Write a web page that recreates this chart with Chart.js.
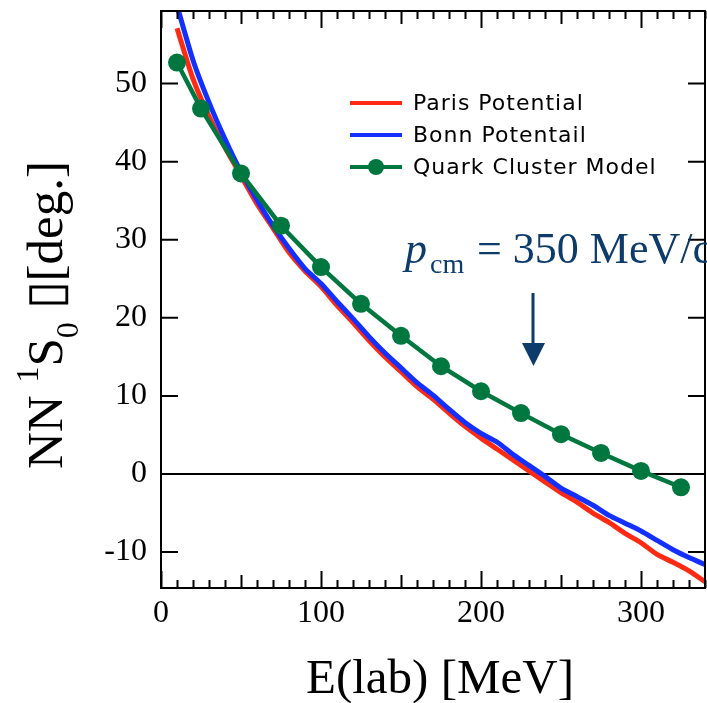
<!DOCTYPE html>
<html lang="en">
<head>
    <meta charset="UTF-8">
    <title>NN 1S0 phase shift</title>
    <style>
        html, body { margin: 0; padding: 0; background: #fff; overflow: hidden; }
        #phaseChart { display: block; }
    </style>
</head>
<body>

<canvas id="phaseChart" width="707" height="703"></canvas>

<script src="https://cdn.jsdelivr.net/npm/chart.js"></script>
<script>
  // values
  const energy = [10, 20, 30, 40, 50, 60, 70, 80, 90, 100, 110, 120, 130, 140, 150, 160, 170,
                  180, 190, 200, 210, 220, 230, 240, 250, 260, 270, 280, 290, 300, 310, 320, 330, 340];
  const parisPhase = [57.1, 50.6, 45.8, 41.8, 38.2, 34.6, 31.5, 28.4, 26.0, 24.0, 21.6, 19.4, 17.1, 15.0,
                      13.1, 11.2, 9.6, 7.8, 6.1, 4.6, 3.2, 1.8, 0.4, -1.0, -2.4, -3.6, -5.0, -6.2,
                      -7.6, -8.8, -10.3, -11.3, -12.4, -13.8];
  const bonnPhase = [60.0, 53.0, 47.6, 42.9, 38.7, 35.1, 31.8, 28.9, 26.3, 24.4, 22.1, 19.9, 17.6, 15.5,
                     13.6, 11.7, 10.1, 8.3, 6.6, 5.2, 4.1, 2.5, 1.1, -0.3, -1.8, -2.9, -4.0, -5.3,
                     -6.3, -7.3, -8.5, -9.7, -10.7, -11.6];
  const qcmEnergy = [10, 25, 50, 75, 100, 125, 150, 175, 200, 225, 250, 275, 300, 325];
  const qcmPhase = [52.7, 46.8, 38.5, 31.8, 26.5, 21.8, 17.7, 13.8, 10.6, 7.8, 5.1, 2.7, 0.4, -1.7];

  const xTicks = [0, 100, 200, 300];
  const yTicks = [-10, 0, 10, 20, 30, 40, 50];
  const labels = ['Paris Potential', 'Bonn Potentail', 'Quark Cluster Model'];

  const RED = '#ff2a14', BLUE = '#1430ff', GREEN = '#00773f', NAVY = '#0d3b6c';
  const SERIF = "'Liberation Serif', 'Times New Roman', serif";

  const toPoints = (xs, ys) => xs.map((x, i) => ({x: x, y: ys[i]}));

  // frame, inward ticks, zero line, titles, legend, annotation
  const decor = {
    id: 'decor',
    beforeDatasetsDraw(chart) {
      const ctx = chart.ctx, a = chart.chartArea;
      const ys = chart.scales.y;
      ctx.save();
      ctx.strokeStyle = '#000';
      ctx.lineWidth = 2;
      const y0 = ys.getPixelForValue(0);
      ctx.beginPath();
      ctx.moveTo(a.left, y0);
      ctx.lineTo(a.right, y0);
      ctx.stroke();
      ctx.restore();
    },
    afterDraw(chart) {
      const ctx = chart.ctx, a = chart.chartArea;
      const xs = chart.scales.x, ys = chart.scales.y;
      ctx.save();
      ctx.strokeStyle = '#000';
      ctx.lineWidth = 2;
      ctx.strokeRect(a.left, a.top, a.right - a.left, a.bottom - a.top);

      ctx.beginPath();
      for (let v = 0; v <= xs.max; v += 10) {
        const px = Math.round(xs.getPixelForValue(v)) + 0.5;
        const len = v % 100 === 0 ? 17 : (v % 50 === 0 ? 13 : 8);
        ctx.moveTo(px, a.bottom); ctx.lineTo(px, a.bottom - len);
        ctx.moveTo(px, a.top); ctx.lineTo(px, a.top + len);
      }
      yTicks.forEach(v => {
        const py = ys.getPixelForValue(v);
        ctx.moveTo(a.left, py); ctx.lineTo(a.left + 17, py);
        ctx.moveTo(a.right, py); ctx.lineTo(a.right - 17, py);
      });
      ctx.stroke();

      // x title
      ctx.fillStyle = '#000';
      ctx.font = '49px ' + SERIF;
      ctx.textAlign = 'center';
      ctx.textBaseline = 'alphabetic';
      ctx.fillText('E(lab) [MeV]', 440, 693);

      // y title with super/subscripts
      ctx.save();
      ctx.translate(62, 469);
      ctx.rotate(-Math.PI / 2);
      ctx.textAlign = 'left';
      const parts = [
        ['NN ', 51, 0], ['1', 32, -24], ['S', 51, 0], ['0', 32, 16], [' \u25AF', 51, 0], ['[deg.]', 51, 0]
      ];
      let cx = 0;
      parts.forEach(p => {
        ctx.font = p[1] + 'px ' + SERIF;
        ctx.fillText(p[0], cx, p[2]);
        cx += ctx.measureText(p[0]).width;
      });
      ctx.restore();

      // legend
      ctx.font = "22px 'DejaVu Sans', sans-serif";
      ctx.letterSpacing = '1px';
      ctx.textAlign = 'left';
      ctx.textBaseline = 'middle';
      chart.data.datasets.forEach((ds, i) => {
        const ly = 103 + i * 32;
        ctx.strokeStyle = ds.borderColor;
        ctx.lineWidth = 4;
        ctx.beginPath();
        ctx.moveTo(350, ly); ctx.lineTo(402, ly);
        ctx.stroke();
        if (ds.pointRadius > 0) {
          ctx.fillStyle = ds.pointBackgroundColor;
          ctx.beginPath();
          ctx.arc(376, ly, 8, 0, Math.PI * 2);
          ctx.fill();
        }
        ctx.fillStyle = '#000';
        ctx.fillText(ds.label, 413, ly + 1);
      });
      ctx.letterSpacing = '0px';

      // p_cm annotation and arrow
      ctx.fillStyle = NAVY;
      ctx.strokeStyle = NAVY;
      ctx.textBaseline = 'alphabetic';
      ctx.font = 'italic 44px ' + SERIF;
      ctx.fillText('p', 405, 263);
      ctx.font = '28px ' + SERIF;
      ctx.fillText('cm', 430, 273);
      ctx.font = '44px ' + SERIF;
      ctx.fillText('= 350 MeV/c', 477, 263);

      ctx.lineWidth = 3;
      ctx.beginPath();
      ctx.moveTo(533, 293); ctx.lineTo(533, 346);
      ctx.stroke();
      ctx.beginPath();
      ctx.moveTo(522, 343); ctx.lineTo(545, 343); ctx.lineTo(533.5, 366);
      ctx.closePath();
      ctx.fill();
      ctx.restore();
    }
  };

  const ctx = document.getElementById('phaseChart').getContext('2d');
  let phaseChart = new Chart(ctx, {
    type: 'line',
    data: {
      datasets: [
        {
          label: labels[0],
          data: toPoints(energy, parisPhase),
          borderColor: RED,
          borderWidth: 5,
          pointRadius: 0,
          tension: 0.2,
          order: 3
        },
        {
          label: labels[1],
          data: toPoints(energy, bonnPhase),
          borderColor: BLUE,
          borderWidth: 5,
          pointRadius: 0,
          tension: 0.2,
          order: 2
        },
        {
          label: labels[2],
          data: toPoints(qcmEnergy, qcmPhase),
          borderColor: GREEN,
          backgroundColor: GREEN,
          pointBackgroundColor: GREEN,
          pointBorderWidth: 0,
          borderWidth: 4.5,
          pointRadius: 9,
          tension: 0,
          order: 1
        }
      ]
    },
    options: {
      responsive: false,
      animation: false,
      layout: { autoPadding: false, padding: { top: 11, right: 2, left: 0, bottom: 0 } },
      plugins: { legend: { display: false }, tooltip: { enabled: false } },
      scales: {
        x: {
          type: 'linear',
          min: 0,
          max: 340,
          afterFit: s => { s.height = 115; s.paddingLeft = 0; s.paddingRight = 0; },
          afterBuildTicks: s => { s.ticks = xTicks.map(v => ({value: v})); },
          grid: { display: false, drawTicks: false },
          border: { display: false },
          ticks: {
            autoSkip: false,
            maxRotation: 0,
            padding: 6,
            color: '#000',
            font: { family: SERIF, size: 32 }
          }
        },
        y: {
          min: -14.6,
          max: 59.3,
          afterFit: s => { s.width = 161; s.paddingTop = 0; s.paddingBottom = 0; },
          afterBuildTicks: s => { s.ticks = yTicks.map(v => ({value: v})); },
          grid: { display: false, drawTicks: false },
          border: { display: false },
          ticks: {
            padding: 14,
            color: '#000',
            font: { family: SERIF, size: 32 }
          }
        }
      }
    },
    plugins: [decor]
  });
</script>

</body>
</html>
